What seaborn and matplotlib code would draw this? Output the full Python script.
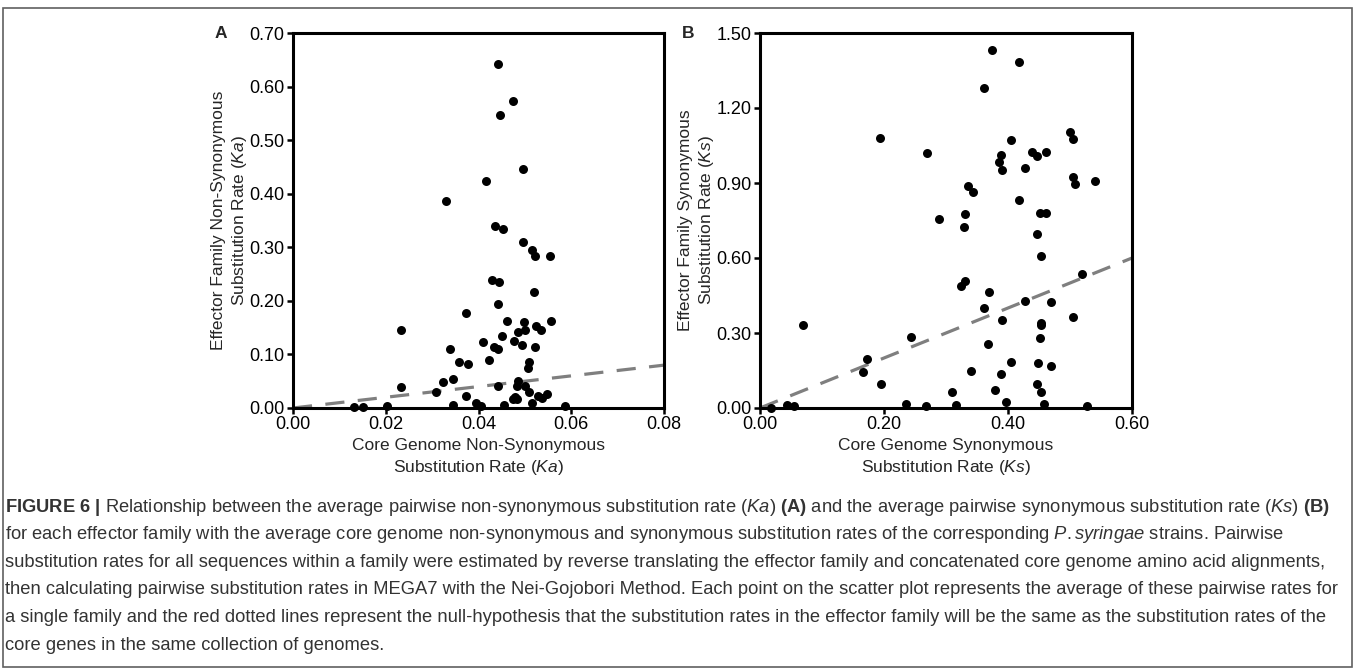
import matplotlib
matplotlib.use("Agg")
import matplotlib.pyplot as plt
import seaborn as sns
import pandas as pd
from matplotlib.patches import Rectangle

# panel A: core genome Ka vs effector family Ka
ka_core = [0.0442, 0.0474, 0.0446, 0.0497, 0.0417, 0.0330, 0.0435, 0.0452, 0.0497, 0.0515,
           0.0521, 0.0554, 0.0429, 0.0445, 0.0519, 0.0441, 0.0374, 0.0232, 0.0461, 0.0499,
           0.0525, 0.0535, 0.0557, 0.0500, 0.0486, 0.0451, 0.0477, 0.0493, 0.0521, 0.0410,
           0.0433, 0.0443, 0.0339, 0.0423, 0.0359, 0.0378, 0.0509, 0.0507, 0.0324, 0.0346,
           0.0308, 0.0372, 0.0441, 0.0486, 0.0483, 0.0500, 0.0509, 0.0528, 0.0536, 0.0548,
           0.0474, 0.0484, 0.0479, 0.0516, 0.0232, 0.0202, 0.0346, 0.0395, 0.0406, 0.0454,
           0.0586, 0.0132, 0.0150]
ka_eff = [0.642, 0.574, 0.546, 0.446, 0.423, 0.386, 0.340, 0.334, 0.309, 0.295,
          0.284, 0.284, 0.239, 0.236, 0.216, 0.194, 0.177, 0.146, 0.163, 0.160,
          0.154, 0.146, 0.163, 0.146, 0.141, 0.135, 0.126, 0.118, 0.113, 0.123,
          0.113, 0.110, 0.110, 0.090, 0.086, 0.082, 0.085, 0.075, 0.048, 0.054,
          0.029, 0.022, 0.042, 0.051, 0.042, 0.042, 0.029, 0.022, 0.018, 0.026,
          0.017, 0.017, 0.021, 0.010, 0.039, 0.003, 0.006, 0.010, 0.004, 0.006,
          0.004, 0.001, 0.001]

# panel B: core genome Ks vs effector family Ks
ks_core = [0.374, 0.417, 0.362, 0.193, 0.405, 0.269, 0.388, 0.386, 0.391, 0.439,
           0.447, 0.462, 0.427, 0.417, 0.336, 0.343, 0.288, 0.331, 0.329, 0.452,
           0.462, 0.446, 0.453, 0.324, 0.331, 0.369, 0.362, 0.428, 0.469, 0.391,
           0.453, 0.453, 0.451, 0.367, 0.069, 0.243, 0.173, 0.166, 0.195, 0.341,
           0.405, 0.448, 0.388, 0.470, 0.310, 0.379, 0.446, 0.453, 0.236, 0.267,
           0.316, 0.397, 0.458, 0.018, 0.043, 0.055, 0.500, 0.505, 0.505, 0.508,
           0.540, 0.520, 0.505, 0.527]
ks_eff = [1.432, 1.383, 1.282, 1.079, 1.074, 1.019, 1.014, 0.984, 0.954, 1.025,
          1.008, 1.026, 0.961, 0.834, 0.889, 0.864, 0.757, 0.776, 0.726, 0.781,
          0.781, 0.697, 0.608, 0.488, 0.507, 0.464, 0.399, 0.429, 0.423, 0.351,
          0.340, 0.332, 0.280, 0.256, 0.334, 0.286, 0.197, 0.143, 0.095, 0.150,
          0.185, 0.179, 0.137, 0.167, 0.066, 0.073, 0.095, 0.066, 0.018, 0.007,
          0.013, 0.023, 0.018, 0.001, 0.011, 0.007, 1.105, 1.078, 0.925, 0.898,
          0.908, 0.535, 0.365, 0.008]

a_xticks = [0.00, 0.02, 0.04, 0.06, 0.08]
a_yticks = [0.00, 0.10, 0.20, 0.30, 0.40, 0.50, 0.60, 0.70]
b_xticks = [0.00, 0.20, 0.40, 0.60]
b_yticks = [0.00, 0.30, 0.60, 0.90, 1.20, 1.50]

sns.set_style("ticks")
plt.rcParams['font.family'] = ['Liberation Sans', 'DejaVu Sans']
plt.rcParams['mathtext.fontset'] = 'custom'
plt.rcParams['mathtext.rm'] = 'Liberation Sans'
plt.rcParams['mathtext.it'] = 'Liberation Sans:italic'
plt.rcParams['mathtext.bf'] = 'Liberation Sans:bold'

fig = plt.figure(figsize=(13.55, 6.70), dpi=100)
W, H = 1355, 670

def axbox(x0, x1, y0, y1):
    return [x0 / W, 1 - y1 / H, (x1 - x0) / W, (y1 - y0) / H]

axA = fig.add_axes(axbox(293, 664, 33, 408))
axB = fig.add_axes(axbox(760, 1132, 33, 408))

dfA = pd.DataFrame({'core': ka_core, 'eff': ka_eff})
dfB = pd.DataFrame({'core': ks_core, 'eff': ks_eff})

panels = [
    (axA, dfA, a_xticks, a_yticks,
     "Core Genome Non-Synonymous\nSubstitution Rate ($\\mathit{Ka}$)",
     "Effector Family Non-Synonymous\nSubstitution Rate ($\\mathit{Ka}$)", 230),
    (axB, dfB, b_xticks, b_yticks,
     "Core Genome Synonymous\nSubstitution Rate ($\\mathit{Ks}$)",
     "Effector Family Synonymous\nSubstitution Rate ($\\mathit{Ks}$)", 697),
]

for ax, df, xt, yt, xl, yl, ylab_x in panels:
    lim = xt[-1]
    # null hypothesis line y = x
    sns.lineplot(x=[0, lim], y=[0, lim], ax=ax, color='#7f7f7f', lw=2.3,
                 dashes=False, zorder=2)
    ax.lines[-1].set_dashes((6, 4.2))
    sns.scatterplot(data=df, x='core', y='eff', ax=ax, color='black', s=42,
                    linewidth=0, zorder=4, clip_on=False)
    ax.set_xlim(0, xt[-1])
    ax.set_ylim(0, yt[-1])
    ax.set_xticks(xt)
    ax.set_yticks(yt)
    ax.set_xticklabels([f"{v:.2f}" for v in xt], fontsize=13)
    ax.set_yticklabels([f"{v:.2f}" for v in yt], fontsize=13)
    ax.set_xlabel(xl, fontsize=12.5, linespacing=1.35)
    ax.set_ylabel(yl, fontsize=12.5, linespacing=1.35, va='center')
    bb = ax.get_position()
    ax.yaxis.set_label_coords((ylab_x / W - bb.x0) / bb.width, 0.5)
    ax.xaxis.set_label_coords(0.5, (1 - 438 / H - bb.y0) / bb.height)
    for s in ax.spines.values():
        s.set_linewidth(2.2)
        s.set_color('black')
    ax.tick_params(width=1.8, length=4, pad=2, colors='black')
    ax.set_facecolor('white')

fig.text(221 / W, 1 - 33 / H, "A", fontsize=12.5, fontweight='bold', ha='center', va='center')
fig.text(688 / W, 1 - 33 / H, "B", fontsize=12.5, fontweight='bold', ha='center', va='center')

# outer frame
fig.patches.append(Rectangle((3 / W, 3 / H), 1349 / W, (H - 11) / H, transform=fig.transFigure,
                             fill=False, edgecolor='#606060', lw=1.2))

caption = [
    r"$\mathbf{FIGURE\ 6\ |}$ Relationship between the average pairwise non-synonymous substitution rate ($\mathit{Ka}$) $\mathbf{(A)}$ and the average pairwise synonymous substitution rate ($\mathit{Ks}$) $\mathbf{(B)}$",
    r"for each effector family with the average core genome non-synonymous and synonymous substitution rates of the corresponding $\mathit{P.syringae}$ strains. Pairwise",
    "substitution rates for all sequences within a family were estimated by reverse translating the effector family and concatenated core genome amino acid alignments,",
    "then calculating pairwise substitution rates in MEGA7 with the Nei-Gojobori Method. Each point on the scatter plot represents the average of these pairwise rates for",
    "a single family and the red dotted lines represent the null-hypothesis that the substitution rates in the effector family will be the same as the substitution rates of the",
    "core genes in the same collection of genomes.",
]
for i, line in enumerate(caption):
    fig.text(5 / W, 1 - (507 + i * 27.6) / H, line, fontsize=13.25, color='#333333',
             ha='left', va='center')

fig.savefig("out.png", dpi=100, facecolor='white')
